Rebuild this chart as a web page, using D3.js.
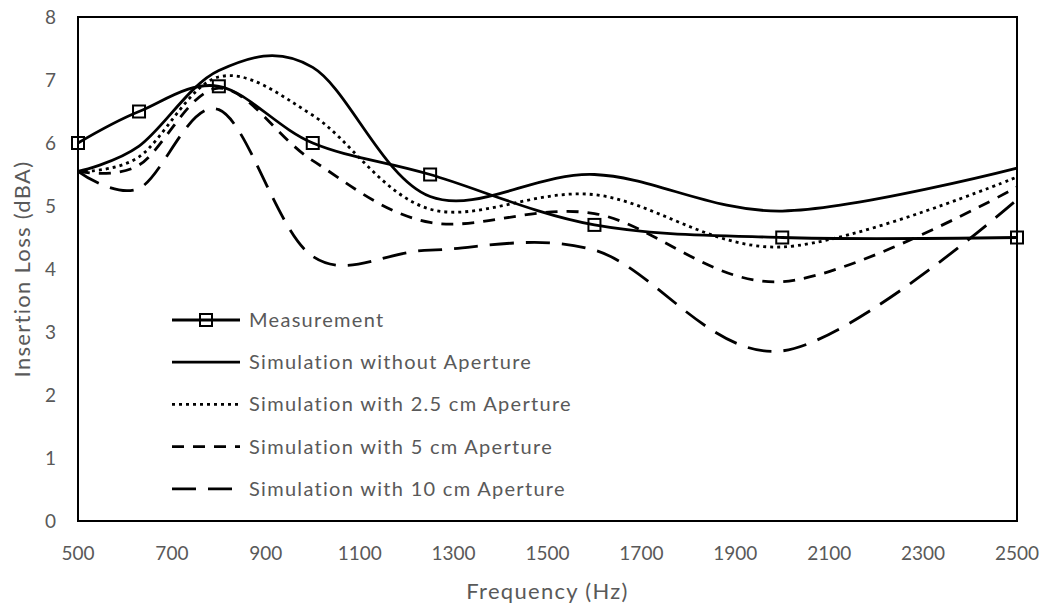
<!DOCTYPE html>
<html>
<head>
<meta charset="utf-8">
<script src="https://cdn.jsdelivr.net/npm/d3@7"></script>
<style>
  body { margin: 0; background: #fff; }
  text { font-family: Lato, "Open Sans", sans-serif; fill: #595959; }
</style>
</head>
<body>
<svg id="chart" width="1047" height="607"></svg>
<script>
var freqs = [500, 630, 800, 1000, 1250, 1600, 2000, 2500];
var measured = [6.0, 6.5, 6.9, 6.0, 5.5, 4.7, 4.5, 4.5];
var noAperture = [5.55, 5.95, 7.15, 7.2, 5.15, 5.5, 4.92, 5.6];
var aperture25 = [5.55, 5.78, 7.05, 6.44, 4.95, 5.18, 4.35, 5.46];
var aperture5 = [5.55, 5.65, 6.87, 5.72, 4.74, 4.88, 3.8, 5.3];
var aperture10 = [5.55, 5.28, 6.53, 4.2, 4.3, 4.3, 2.7, 5.1];
var xTicks = [500, 700, 900, 1100, 1300, 1500, 1700, 1900, 2100, 2300, 2500];
var yTicks = [0, 1, 2, 3, 4, 5, 6, 7, 8];

var series = [
  {name: 'Measurement', values: measured, dash: null, marker: true},
  {name: 'Simulation without Aperture', values: noAperture, dash: null},
  {name: 'Simulation with 2.5 cm Aperture', values: aperture25, dash: '3,4'},
  {name: 'Simulation with 5 cm Aperture', values: aperture5, dash: '12,9'},
  {name: 'Simulation with 10 cm Aperture', values: aperture10, dash: '24,12'}
];

var margin = {top: 17, left: 78, right: 30, bottom: 86};
var svg = d3.select('#chart');
var W = 1047, H = 607;

var x = d3.scaleLinear().domain([500, 2500]).range([margin.left, W - margin.right]);
var y = d3.scaleLinear().domain([0, 8]).range([H - margin.bottom, margin.top]);

// frame
svg.append('rect')
  .attr('x', x(500)).attr('y', y(8))
  .attr('width', x(2500) - x(500)).attr('height', y(0) - y(8))
  .attr('fill', 'none').attr('stroke', '#000').attr('stroke-width', 2);

// tick labels
svg.selectAll('.ylab').data(yTicks).enter().append('text')
  .attr('x', x(500) - 22).attr('y', function (d) { return y(d) + 7; })
  .attr('text-anchor', 'end').style('font-size', '19px')
  .text(function (d) { return d; });

svg.selectAll('.xlab').data(xTicks).enter().append('text')
  .attr('x', function (d) { return x(d); }).attr('y', y(0) + 39)
  .attr('text-anchor', 'middle').style('font-size', '19px')
  .text(function (d) { return d; });

svg.append('text')
  .attr('x', (x(500) + x(2500)) / 2).attr('y', 599)
  .attr('text-anchor', 'middle').style('font-size', '22px').style('letter-spacing', '1.3px')
  .text('Frequency (Hz)');

svg.append('text')
  .attr('transform', 'translate(30,269) rotate(-90)')
  .attr('text-anchor', 'middle').style('font-size', '22px').style('letter-spacing', '1.3px')
  .text('Insertion Loss (dBA)');

var line = d3.line()
  .x(function (d) { return x(d[0]); })
  .y(function (d) { return y(d[1]); })
  .curve(d3.curveCatmullRom.alpha(0));

series.slice().reverse().forEach(function (s) {
  var pts = freqs.map(function (f, i) { return [f, s.values[i]]; });
  svg.append('path')
    .attr('d', line(pts))
    .attr('fill', 'none').attr('stroke', '#000').attr('stroke-width', 2.8)
    .attr('stroke-dasharray', s.dash);
  if (s.marker) {
    svg.selectAll('.mk').data(pts).enter().append('rect')
      .attr('x', function (d) { return x(d[0]) - 6; })
      .attr('y', function (d) { return y(d[1]) - 6; })
      .attr('width', 12).attr('height', 12)
      .attr('fill', 'none').attr('stroke', '#000').attr('stroke-width', 2);
  }
});

// legend
var leg = svg.append('g');
series.forEach(function (s, i) {
  var ly = 320 + i * 42.2;
  leg.append('line')
    .attr('x1', 172).attr('x2', 240).attr('y1', ly).attr('y2', ly)
    .attr('stroke', '#000').attr('stroke-width', 2.8)
    .attr('stroke-dasharray', s.dash);
  if (s.marker) {
    leg.append('rect').attr('x', 200).attr('y', ly - 6).attr('width', 12).attr('height', 12)
      .attr('fill', 'none').attr('stroke', '#000').attr('stroke-width', 2);
  }
  leg.append('text').attr('x', 249).attr('y', ly + 7).style('font-size', '20px')
    .style('letter-spacing', '1.3px').text(s.name);
});
</script>
</body>
</html>
